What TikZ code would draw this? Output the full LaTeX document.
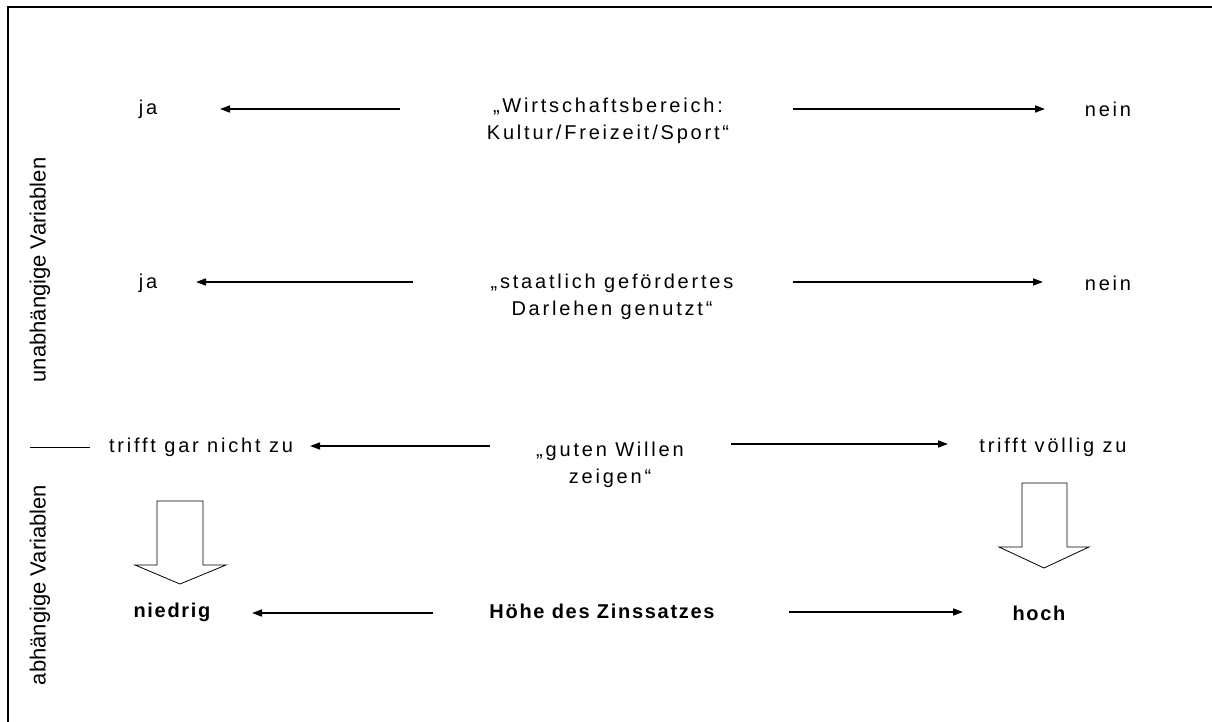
\documentclass[tikz,border=0pt]{standalone}
\usepackage{fontspec}
\setmainfont{Liberation Sans}
\newfontfamily\spaced[LetterSpace=14]{Liberation Sans}
\newfontfamily\bspaced[LetterSpace=8.5]{Liberation Sans Bold}
\usetikzlibrary{arrows.meta}
\tikzset{
  lbl/.style={font=\spaced\fontsize{20}{27}\selectfont, align=center, inner sep=0pt},
  blbl/.style={font=\bspaced\fontsize{20}{27}\selectfont, align=center, inner sep=0pt},
  vlbl/.style={font=\fontsize{22}{24}\selectfont, rotate=90, inner sep=0pt},
  conn/.style={line width=1.6pt, -{Triangle[length=10pt,width=7pt]}},
  blockarrow/.style={draw=black, line width=0.8pt, fill=white, line join=miter},
}
\begin{document}
\begin{tikzpicture}[x=1pt,y=-1pt]
\useasboundingbox (0,0) rectangle (1212,722);
% frame
\draw[line width=2pt] (8,722) -- (8,7) -- (1212,7);

% row 1
\node[lbl] (ja1) at (148,109) {ja};
\node[lbl] (q1) at (608,121) {„Wirtschaftsbereich:\\Kultur/Freizeit/Sport“};
\node[lbl] (nein1) at (1108,109) {nein};
\coordinate (a1s) at (400,109); \coordinate (a1e) at (220,109);
\coordinate (b1s) at (793,109); \coordinate (b1e) at (1045,109);
\draw[conn] (a1s) -- (a1e);
\draw[conn] (b1s) -- (b1e);

% row 2
\node[lbl] (ja2) at (148,283) {ja};
\node[lbl] (q2) at (612,297) {„staatlich gefördertes\\Darlehen genutzt“};
\node[lbl] (nein2) at (1108,283) {nein};
\coordinate (a2s) at (413,282); \coordinate (a2e) at (196,282);
\coordinate (b2s) at (793,282); \coordinate (b2e) at (1043,282);
\draw[conn] (a2s) -- (a2e);
\draw[conn] (b2s) -- (b2e);

% row 3
\coordinate (sl1) at (30,447); \coordinate (sl2) at (90,447);
\draw[line width=0.8pt] (sl1) -- (sl2);
\node[lbl] (tg) at (201,447) {trifft gar nicht zu};
\node[lbl] (q3) at (610,465) {„guten Willen\\zeigen“};
\node[lbl] (tv) at (1053,447) {trifft völlig zu};
\coordinate (a3s) at (490,446); \coordinate (a3e) at (310,446);
\coordinate (b3s) at (731,444); \coordinate (b3e) at (948,444);
\draw[conn] (a3s) -- (a3e);
\draw[conn] (b3s) -- (b3e);

% block arrows
\draw[blockarrow] (157,501) -- (203,501) -- (203,565) -- (226,565) -- (180,584) -- (135,565) -- (157,565) -- cycle;
\draw[blockarrow] (1022,483) -- (1067,483) -- (1067,547) -- (1089,547) -- (1044,568) -- (999,547) -- (1022,547) -- cycle;

% row 4
\node[blbl] (nd) at (172,612) {niedrig};
\node[blbl] (hz) at (602,611) {Höhe des Zinssatzes};
\node[blbl] (hc) at (1039,613) {hoch};
\coordinate (a4s) at (433,613); \coordinate (a4e) at (252,613);
\coordinate (b4s) at (789,612); \coordinate (b4e) at (963,612);
\draw[conn] (a4s) -- (a4e);
\draw[conn] (b4s) -- (b4e);

% vertical labels
\node[vlbl] (uv) at (40,270) {unabhängige Variablen};
\node[vlbl] (av) at (40,585) {abhängige Variablen};
\end{tikzpicture}
\end{document}
